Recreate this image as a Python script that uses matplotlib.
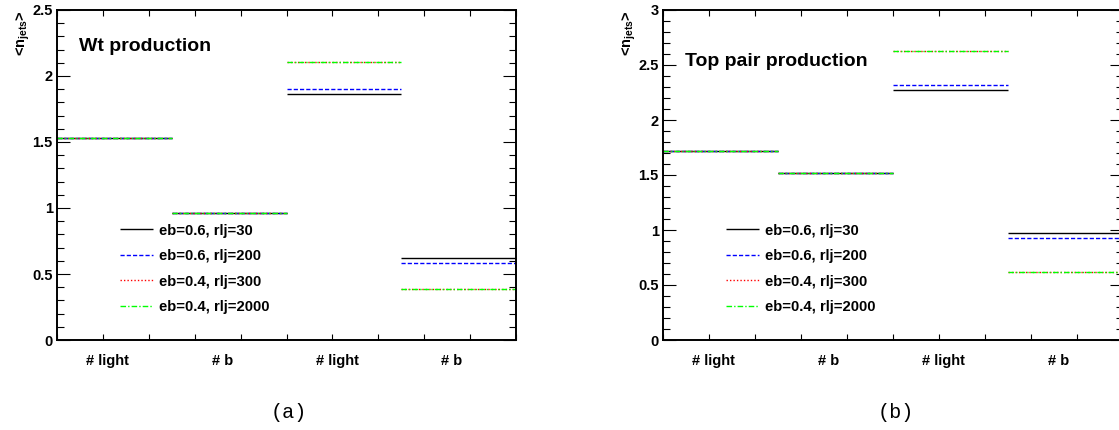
import numpy as np
import matplotlib
matplotlib.use('Agg')
import matplotlib.pyplot as plt
from matplotlib.ticker import MultipleLocator, FormatStrFormatter
import matplotlib.transforms as mtransforms

plt.rcParams['font.family'] = ['Liberation Sans', 'DejaVu Sans']
plt.rcParams['font.weight'] = 'bold'
plt.rcParams['mathtext.fontset'] = 'custom'
plt.rcParams['mathtext.rm'] = 'Liberation Sans:bold'
plt.rcParams['mathtext.bf'] = 'Liberation Sans:bold'

# bins (x axis)
categories = ['# light', '# b', '# light', '# b']
series_labels = ['eb=0.6, rlj=30', 'eb=0.6, rlj=200', 'eb=0.4, rlj=300', 'eb=0.4, rlj=2000']

# Wt production
wt_rlj30 = [1.53, 0.96, 1.865, 0.625]
wt_rlj200 = [1.53, 0.96, 1.905, 0.585]
wt_rlj300 = [1.53, 0.96, 2.105, 0.39]
wt_rlj2000 = [1.53, 0.96, 2.105, 0.39]

# top pair production
tt_rlj30 = [1.72, 1.52, 2.275, 0.97]
tt_rlj200 = [1.72, 1.52, 2.32, 0.925]
tt_rlj300 = [1.72, 1.52, 2.63, 0.615]
tt_rlj2000 = [1.72, 1.52, 2.63, 0.615]

colors = ['black', '#0000ff', '#ff0000', '#00ff00']
styles = ['-', (0, (3, 1.5)), (0, (1, 1.5)), (0, (4, 1.5, 1, 1.5))]

W, H = 1119, 430
fig = plt.figure(figsize=(W / 100, H / 100), dpi=100)


def draw_panel(ax, series, title, title_y, ymax):
    edges = np.arange(len(categories) + 1)
    for vals, lab, c, ls in zip(series, series_labels, colors, styles):
        ax.hlines(vals, edges[:-1], edges[1:], colors=c, linestyles=ls,
                  linewidth=1.0, label=lab)
    ax.set_xlim(0, len(categories))
    ax.set_ylim(0, ymax)

    ax.xaxis.set_major_locator(MultipleLocator(0.4))
    ax.xaxis.set_major_formatter(plt.NullFormatter())
    ax.yaxis.set_major_locator(MultipleLocator(0.5))
    ax.yaxis.set_minor_locator(MultipleLocator(0.1))
    ax.yaxis.set_major_formatter(FormatStrFormatter('%g'))
    ax.tick_params(axis='x', which='major', direction='in', length=4,
                   width=0.8, top=True, bottom=True)
    ax.tick_params(axis='y', which='major', direction='in', length=9.5,
                   width=0.8, left=True, right=True, labelsize=10.5, pad=3)
    ax.tick_params(axis='y', which='minor', direction='in', length=4.7,
                   width=0.8, left=True, right=True)
    for lbl in ax.get_yticklabels():
        lbl.set_fontweight('bold')
    for s in ax.spines.values():
        s.set_linewidth(1.4)

    # bin labels under the axis
    trans = mtransforms.offset_copy(ax.get_xaxis_transform(), fig=fig,
                                    y=-21, units='dots')
    for i, cat in enumerate(categories):
        ax.text(i + 0.44, 0, cat, transform=trans, ha='center', va='center',
                fontsize=10.5, fontweight='bold')

    ax.text(0.048, title_y, title, transform=ax.transAxes, fontsize=14,
            fontweight='bold', ha='left', va='baseline')

    ax.set_ylabel(r'<n$_{\rm jets}$>', fontsize=10.5, fontweight='bold',
                  loc='top', labelpad=0)

    leg = ax.legend(loc='upper left', bbox_to_anchor=(0.137, 0.353),
                    frameon=False, fontsize=10.7, handlelength=2.2,
                    handletextpad=0.42, labelspacing=0.78, borderpad=0,
                    borderaxespad=0)
    for t in leg.get_texts():
        t.set_fontweight('bold')


ax1 = fig.add_axes([57 / W, 90 / H, 459 / W, 330 / H])
draw_panel(ax1, [wt_rlj30, wt_rlj200, wt_rlj300, wt_rlj2000],
           'Wt production', 0.877, 2.5)

ax2 = fig.add_axes([663 / W, 90 / H, 460 / W, 330 / H])
draw_panel(ax2, [tt_rlj30, tt_rlj200, tt_rlj300, tt_rlj2000],
           'Top pair production', 0.831, 3.0)

fig.text(289 / W, 1 - 413 / H, '(a)', family='Liberation Mono',
         fontweight='normal', fontsize=14.5, ha='center', va='center')
fig.text(896 / W, 1 - 413 / H, '(b)', family='Liberation Mono',
         fontweight='normal', fontsize=14.5, ha='center', va='center')

fig.savefig('out.png', dpi=100)
